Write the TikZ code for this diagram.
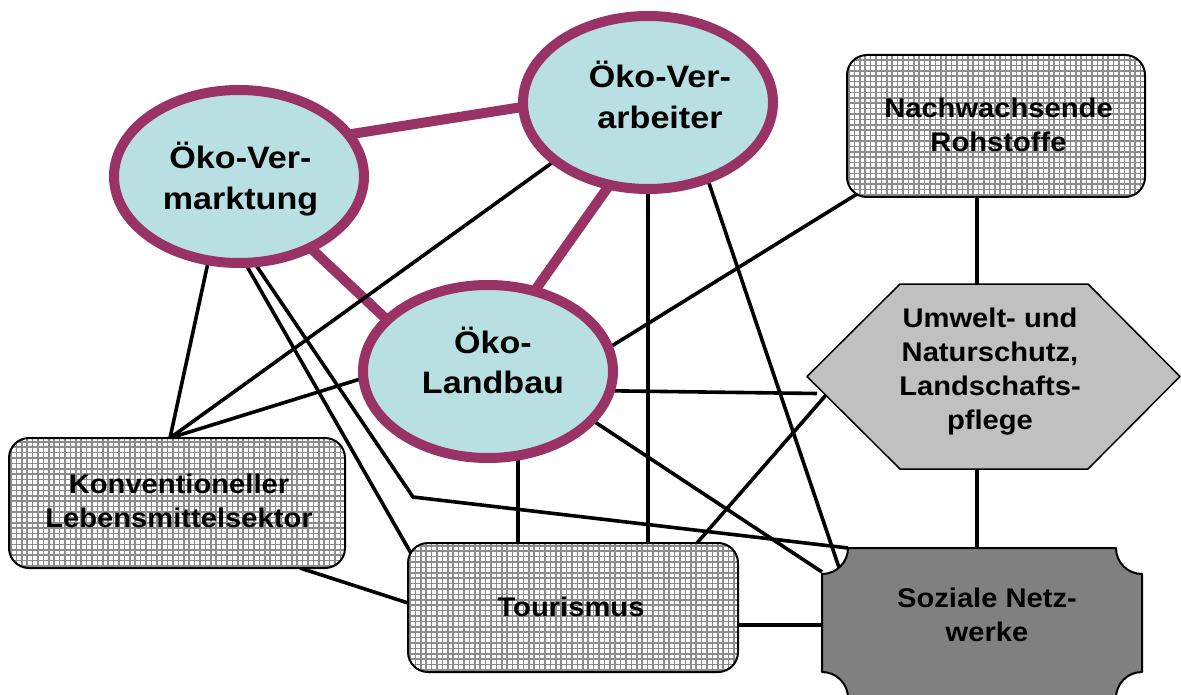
\documentclass[tikz,border=0pt]{standalone}
\usepackage{fontspec}
\setmainfont{Liberation Sans}
\usetikzlibrary{calc,shapes.geometric}
\pgfdeclarelayer{bg}
\pgfsetlayers{bg,main}
\definecolor{oekofill}{HTML}{B8DFE2}
\definecolor{oekoline}{HTML}{993366}
\definecolor{hexfill}{HTML}{C0C0C0}
\definecolor{sozfill}{HTML}{808080}
\newcommand{\etext}[1]{\scalebox{1.1}[1]{\fontsize{31}{40.5}\selectfont\bfseries\begin{tabular}{@{}c@{}}#1\end{tabular}}}
\newcommand{\btext}[1]{\scalebox{1.08}[1]{\fontsize{27}{34}\selectfont\bfseries\begin{tabular}{@{}c@{}}#1\end{tabular}}}
\begin{document}
\begin{tikzpicture}[x=1pt,y=-1pt,line join=round,
  oeko/.style={ellipse, draw=oekoline, fill=oekofill, line width=10pt, minimum width=250pt, minimum height=173pt, inner sep=0pt, outer sep=0pt},
  plink/.style={draw=oekoline, line width=10pt},
  link/.style={draw=black, line width=3.6pt},
  gridline/.style={draw=black!45, line width=1.7pt},
  gridbox/.style={rectangle, rounded corners=20pt, draw=black, line width=2pt, fill=white, inner sep=0pt, outer sep=0pt,
    path picture={\foreach \k in {0,...,64}{
      \draw[gridline] ([xshift=2pt+\k*5.4pt]path picture bounding box.south west) -- ([xshift=2pt+\k*5.4pt]path picture bounding box.north west);
      \draw[gridline] ([yshift=2pt+\k*5.4pt]path picture bounding box.south west) -- ([yshift=2pt+\k*5.4pt]path picture bounding box.south east);
    }}},
  hexstyle/.style={draw=black, fill=hexfill, line width=1.5pt},
  sozstyle/.style={draw=black, fill=sozfill, line width=2pt},
  lbl/.style={inner sep=0pt}]
\useasboundingbox (0,0) rectangle (1181,695);

% shapes
\coordinate (hex) at (994,376.5);
\draw[hexstyle] ($(hex)+(-187,0)$) -- ($(hex)+(-94,-92.5)$) -- ($(hex)+(94,-92.5)$) -- ($(hex)+(186,0)$) -- ($(hex)+(94,92.5)$) -- ($(hex)+(-94,92.5)$) -- cycle;

\node[inner sep=0pt, outer sep=0pt, minimum width=320pt, minimum height=150pt] (soz) at (982,623) {};
\draw[sozstyle] ($(soz.north west)+(26,0)$) -- ($(soz.north east)+(-26,0)$)
  .. controls ($(soz.north east)+(-26,14.4)$) and ($(soz.north east)+(-14.4,26)$) .. ($(soz.north east)+(0,26)$)
  -- ($(soz.south east)+(0,-26)$)
  .. controls ($(soz.south east)+(-14.4,-26)$) and ($(soz.south east)+(-26,-14.4)$) .. ($(soz.south east)+(-26,0)$)
  -- ($(soz.south west)+(26,0)$)
  .. controls ($(soz.south west)+(26,-14.4)$) and ($(soz.south west)+(14.4,-26)$) .. ($(soz.south west)+(0,-26)$)
  -- ($(soz.north west)+(0,26)$)
  .. controls ($(soz.north west)+(14.4,26)$) and ($(soz.north west)+(26,14.4)$) .. cycle;

\node[oeko] (verm) at (239,176.5) {};
\node[oeko] (verarb) at (648,102.5) {};
\node[oeko] (land) at (488,371.5) {};
\node[gridbox, minimum width=298pt, minimum height=142pt] (nach) at (996,126) {};
\node[gridbox, minimum width=336pt, minimum height=130pt] (konv) at (177,503) {};
\node[gridbox, minimum width=330pt, minimum height=129pt] (tour) at (573,607.5) {};

% texts
\node[lbl] (vermtext) at (240.5,181) {\etext{Öko-Ver-\\marktung}};
\node[lbl] (verarbtext) at (660,100) {\etext{Öko-Ver-\\arbeiter}};
\node[lbl] (landtext) at (493,365.5) {\etext{Öko-\\Landbau}};
\node[lbl] (nachtext) at (998.5,127.5) {\btext{Nachwachsende\\Rohstoffe}};
\node[lbl] (konvtext) at (179,503.5) {\btext{Konventioneller\\Lebensmittelsektor}};
\node[lbl] (tourtext) at (571,610) {\btext{Tourismus}};
\node[lbl] (hextext) at (990,371.5) {\btext{Umwelt- und\\Naturschutz,\\Landschafts-\\pflege}};
\node[lbl] (soztext) at (987,618) {\btext{Soziale Netz-\\werke}};

% connectors
\begin{pgfonlayer}{bg}
\draw[plink] (verm.21.8) -- (verarb.182.5);
\draw[plink] (verm.315.6) -- (land.153.4);
\draw[plink] (verarb.245.3) -- (land.60);
\draw[link] (verm.250) -- ($(konv.north)+(-7,0)$);
\draw[link] (verarb.212.6) -- ($(konv.north)+(-7,0)$);
\draw[link] (land.183) -- ($(konv.north)+(-7,0)$);
\draw[link] (verm.274) -- ($(tour.north west)+(4,12)$);
\coordinate (knick) at (413,497);
\draw[link] (verm.280) -- (knick) -- ($(soz.north west)+(26,0)$);
\draw[link] (verarb.center) -- ($(tour.north)+(75,0)$);
\draw[link] (verarb.308.7) -- ($(soz.north west)+(17,19.5)$);
\draw[link] ($(land.center)+(30,0)$) -- ($(tour.north)+(-55,0)$);
\draw[link] (land.351.5) -- ($(hex)+(-177,17)$);
\draw[link] (land.335.6) -- ($(soz.north west)+(0,24)$);
\draw[link] ($(nach.south west)+(10,-3)$) -- (land.11.4);
\draw[link] ($(nach.south)+(-19,0)$) -- ($(hex)+(-17,-92.5)$);
\draw[link] ($(hex)+(-17,92.5)$) -- ($(soz.north)+(-5,0)$);
\draw[link] ($(hex)+(-168,18.5)$) -- ($(tour.north)+(124,0)$);
\draw[link] ($(konv.south)+(123,0)$) -- ($(tour.west)+(0,-4.5)$);
\draw[link] ($(tour.east)+(0,17.5)$) -- ($(soz.west)+(0,2)$);
\end{pgfonlayer}
\end{tikzpicture}
\end{document}
